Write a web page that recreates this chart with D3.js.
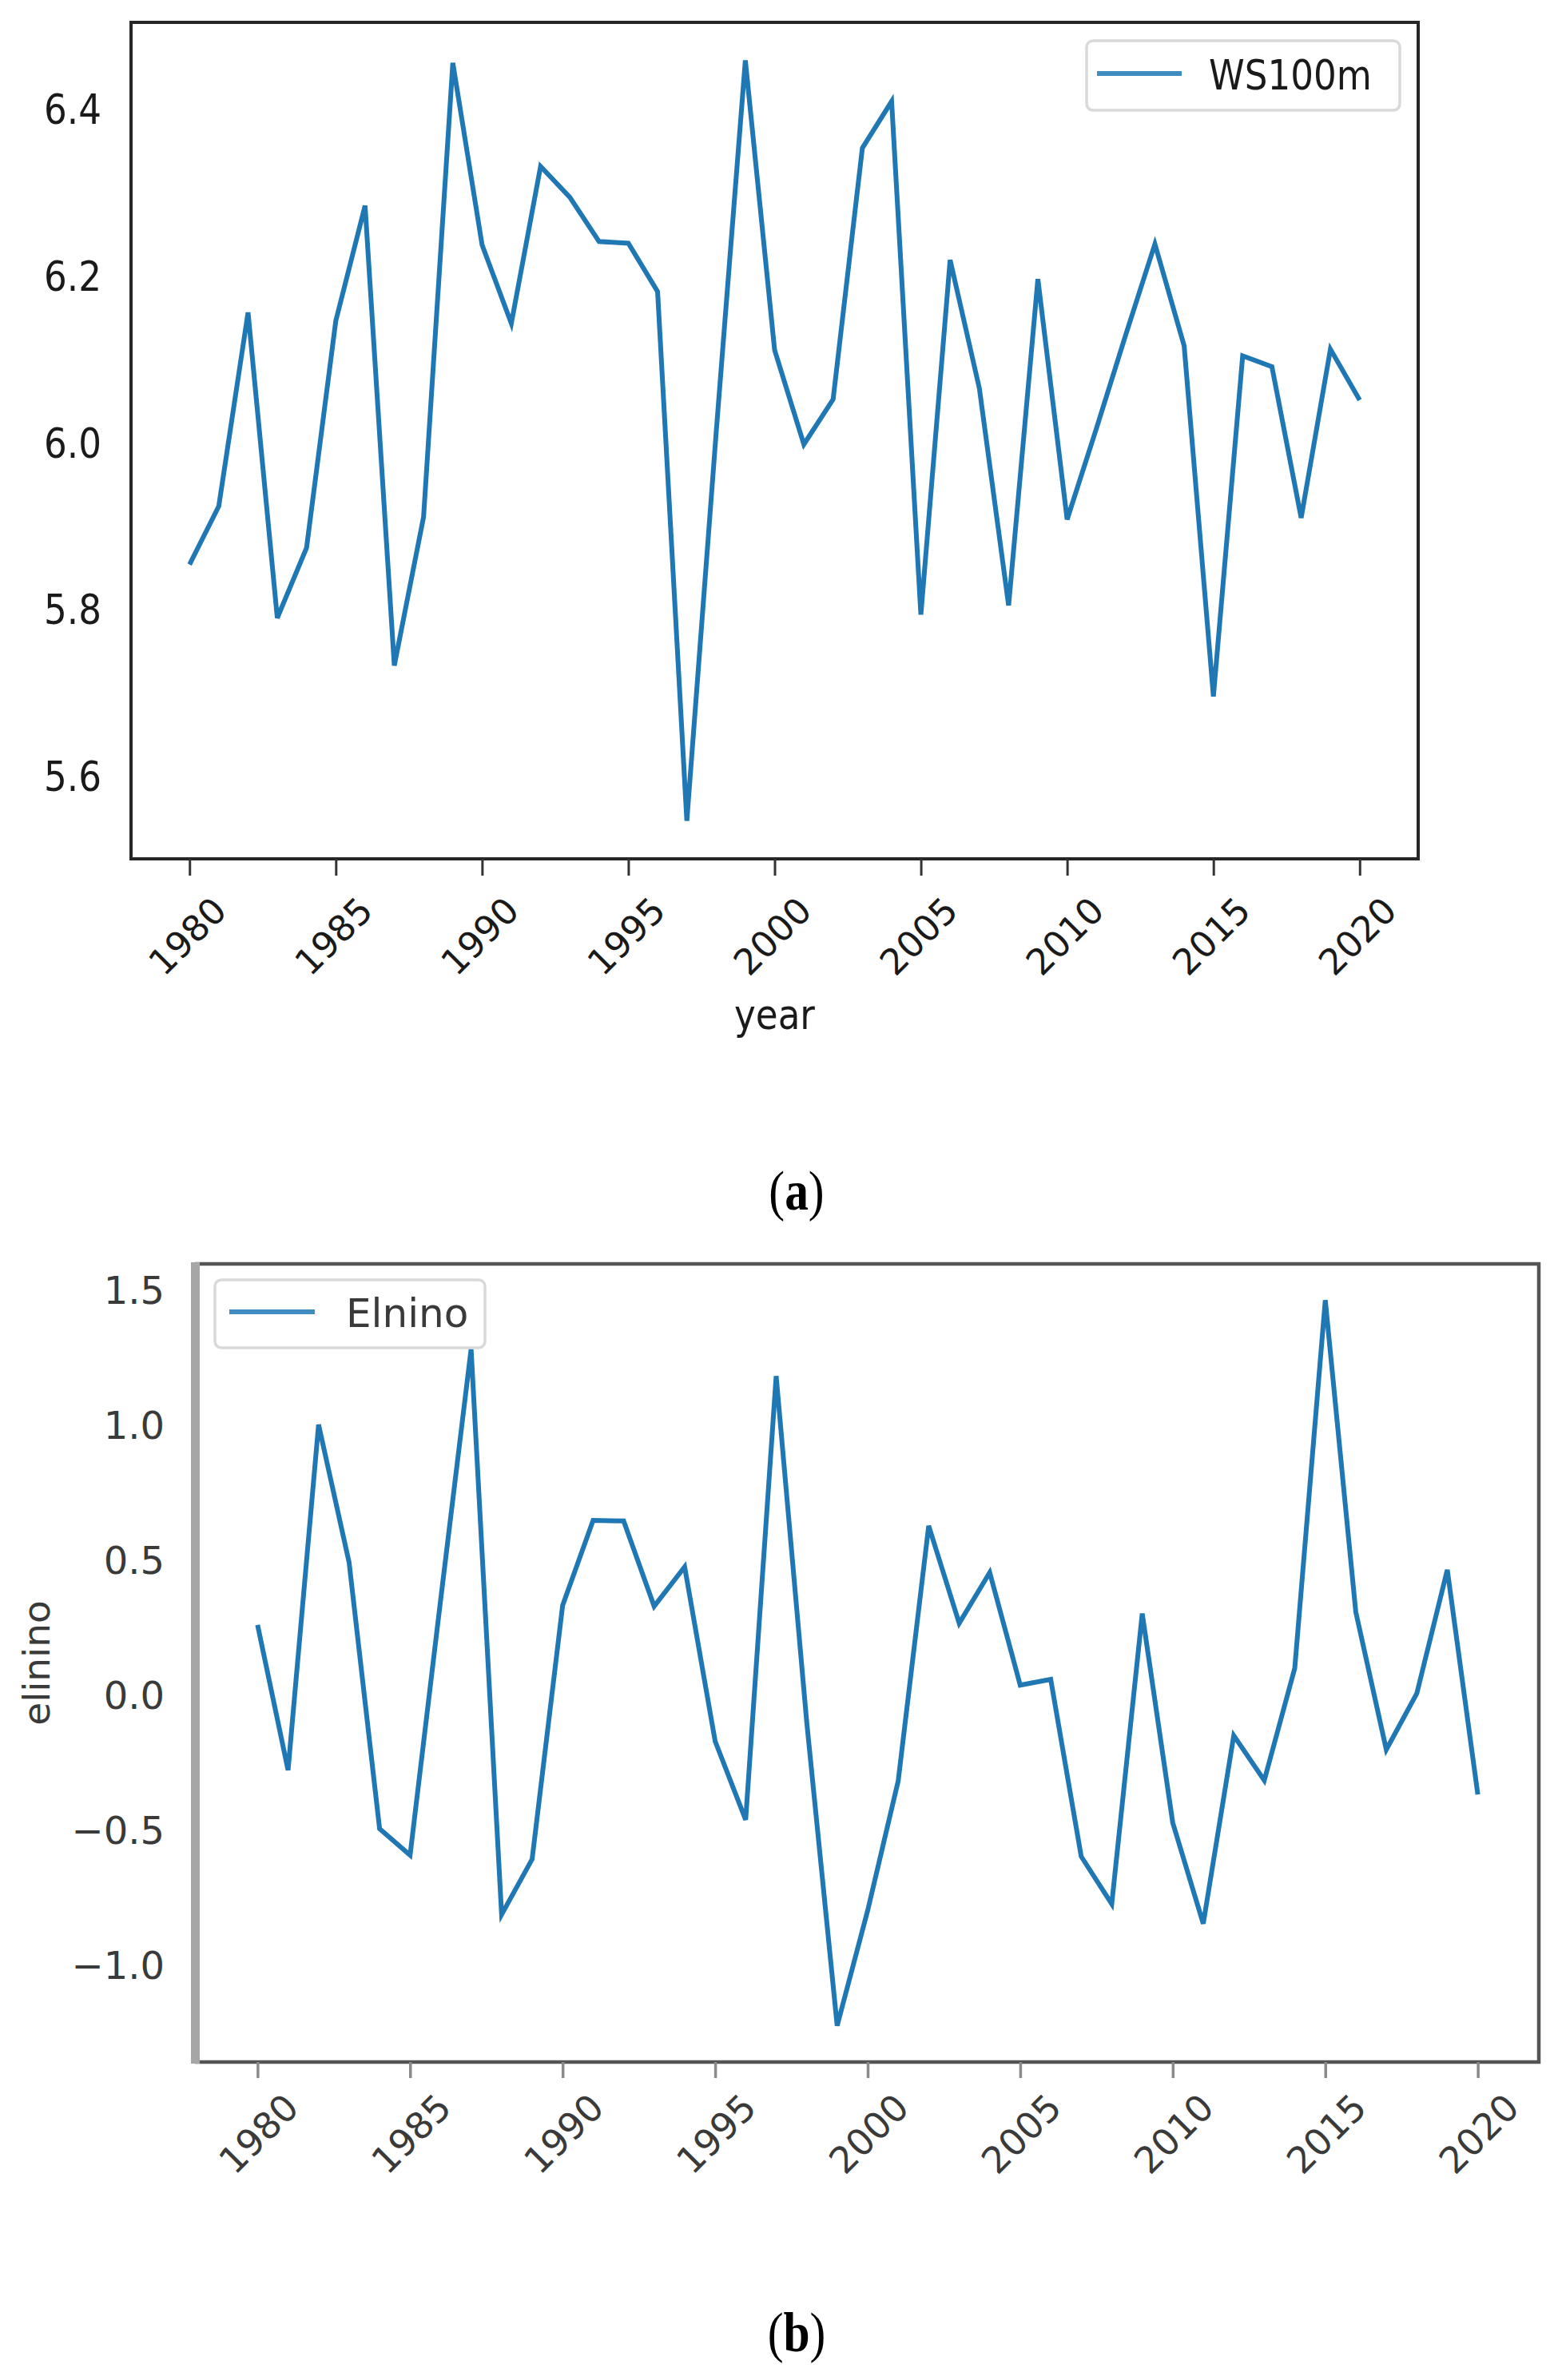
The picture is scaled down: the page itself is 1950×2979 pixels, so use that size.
<!DOCTYPE html>
<html>
<head>
<meta charset="utf-8">
<script src="https://cdn.jsdelivr.net/npm/d3@7"></script>
<style>
  html, body { margin: 0; padding: 0; background: #ffffff; }
  svg { display: block; }
</style>
</head>
<body>
<svg id="chart" width="1950" height="2979"></svg>
<script>
// ---------------- DATA ----------------
const years = d3.range(1980, 2021);
const ws100m = [5.853, 5.923, 6.155, 5.789, 5.873, 6.145, 6.283, 5.732, 5.910, 6.454,
                6.236, 6.142, 6.330, 6.293, 6.240, 6.238, 6.180, 5.546, 6.010, 6.457,
                6.110, 5.997, 6.051, 6.352, 6.408, 5.793, 6.218, 6.064, 5.804, 6.195,
                5.907, 6.016, 6.128, 6.237, 6.115, 5.695, 6.103, 6.090, 5.909, 6.111,
                6.050];
const elnino = [0.258, -0.280, 1.000, 0.490, -0.497, -0.595, 0.350, 1.280, -0.815, -0.610,
                0.330, 0.645, 0.643, 0.327, 0.473, -0.173, -0.464, 1.180, -0.100, -1.227,
                -0.800, -0.320, 0.625, 0.264, 0.452, 0.035, 0.056, -0.600, -0.776, 0.300,
                -0.475, -0.849, -0.152, -0.318, 0.098, 1.461, 0.306, -0.204, 0.004, 0.462,
                -0.370];
const xTicks = [1980, 1985, 1990, 1995, 2000, 2005, 2010, 2015, 2020];
const yTicksA = [5.6, 5.8, 6.0, 6.2, 6.4];
const yTicksB = [-1.0, -0.5, 0.0, 0.5, 1.0, 1.5];
const seriesNameA = "WS100m";
const seriesNameB = "Elnino";
const xLabelA = "year";
const yLabelB = "elinino";
const captionA = "a";
const captionB = "b";

// ---------------- HELPERS ----------------
const svg = d3.select("#chart");
const LINE = "#1f77b4";
const FONT = "DejaVu Sans, Verdana, sans-serif";

function padded(ext, frac) {
  const r = ext[1] - ext[0];
  return [ext[0] - r * frac, ext[1] + r * frac];
}
function fmtTick(v) {
  return d3.format(".1f")(v).replace("-", "\u2212");
}

function drawPanel(cfg) {
  const g = svg.append("g");
  const x = d3.scaleLinear().domain(padded(d3.extent(years), 0.05)).range([cfg.left, cfg.right]);
  const y = d3.scaleLinear().domain(padded(d3.extent(cfg.values), 0.05)).range([cfg.bottom, cfg.top]);

  // line
  const line = d3.line().x((d, i) => x(years[i])).y(d => y(d));
  g.append("path")
    .datum(cfg.values)
    .attr("d", line)
    .attr("fill", "none")
    .attr("stroke", LINE)
    .attr("stroke-width", 6)
    .attr("stroke-linejoin", "miter")
    .attr("stroke-linecap", "butt");

  // frame
  g.append("rect")
    .attr("x", cfg.left).attr("y", cfg.top)
    .attr("width", cfg.right - cfg.left).attr("height", cfg.bottom - cfg.top)
    .attr("fill", "none").attr("stroke", cfg.spine).attr("stroke-width", cfg.spineW);
  if (cfg.leftBar) {
    g.append("rect")
      .attr("x", cfg.left - 7).attr("y", cfg.top - 2)
      .attr("width", 11).attr("height", cfg.bottom - cfg.top + 4)
      .attr("fill", cfg.leftBar);
  }

  // y axis
  const ya = g.append("g")
    .attr("transform", `translate(${cfg.left},0)`)
    .call(d3.axisLeft(y).tickValues(cfg.yTicks).tickFormat(fmtTick).tickSize(cfg.yTickLen).tickPadding(0));
  ya.select(".domain").remove();
  ya.selectAll(".tick line").attr("stroke", cfg.yTickColor).attr("stroke-width", cfg.tickW)
    .attr("x1", -cfg.yTickOff);
  ya.selectAll(".tick text")
    .attr("x", null).attr("dy", null)
    .attr("text-anchor", "end")
    .attr("font-family", FONT)
    .attr("font-size", cfg.fs)
    .attr("fill", cfg.textColor)
    .attr("transform", `translate(${-cfg.yLabelGap},${cfg.fs * 0.3645}) scale(${cfg.sx},1)`);

  // x axis
  const xa = g.append("g")
    .attr("transform", `translate(0,${cfg.bottom})`)
    .call(d3.axisBottom(x).tickValues(xTicks).tickFormat(d3.format("d")).tickSize(cfg.xTickLen).tickPadding(0));
  xa.select(".domain").remove();
  xa.selectAll(".tick line").attr("stroke", cfg.xTickColor).attr("stroke-width", cfg.tickW);
  xa.selectAll(".tick text")
    .attr("y", null).attr("dy", null)
    .attr("text-anchor", "middle")
    .attr("dominant-baseline", "central")
    .attr("font-family", FONT)
    .attr("font-size", cfg.xfs)
    .attr("fill", cfg.textColor)
    .attr("transform", `translate(${cfg.xLabelDx},${cfg.xLabelCy}) rotate(-45)`);

  // legend
  const L = cfg.legend;
  g.append("rect")
    .attr("x", L.x0).attr("y", L.y0)
    .attr("width", L.x1 - L.x0).attr("height", L.y1 - L.y0)
    .attr("rx", 8).attr("ry", 8)
    .attr("fill", "#ffffff").attr("fill-opacity", 0.85)
    .attr("stroke", "#d9d9d9").attr("stroke-width", 3.5);
  g.append("line")
    .attr("x1", L.lx0).attr("x2", L.lx1).attr("y1", L.ly).attr("y2", L.ly)
    .attr("stroke", LINE).attr("stroke-width", 6).attr("stroke-opacity", 0.85);
  g.append("text")
    .attr("transform", `translate(${L.tx},${L.ty}) scale(${cfg.sx},1)`)
    .attr("font-family", FONT)
    .attr("font-size", L.fs)
    .attr("fill", cfg.textColor)
    .text(cfg.name);

  return { x, y, g };
}

// ---------------- PANEL (a) ----------------
const pa = drawPanel({
  values: ws100m, name: seriesNameA,
  left: 164, right: 1775, top: 28, bottom: 1075,
  yTicks: yTicksA,
  spine: "#262626", spineW: 4, leftBar: null,
  yTickLen: 18, yTickOff: 18, yTickColor: "#262626", xTickLen: 21, xTickColor: "#333333", tickW: 3,
  yLabelGap: 37, fs: 52, sx: 0.87, xfs: 45, xLabelCy: 97, xLabelDx: -3,
  textColor: "#1a1a1a",
  legend: { x0: 1360, y0: 51, x1: 1752, y1: 138, lx0: 1373, lx1: 1479, ly: 92,
            tx: 1513, ty: 111.5, fs: 52 }
});
svg.append("text")
  .attr("transform", `translate(${(164 + 1775) / 2},1288) scale(0.87,1)`)
  .attr("text-anchor", "middle")
  .attr("font-family", FONT).attr("font-size", 52).attr("fill", "#1a1a1a")
  .text(xLabelA);

// ---------------- PANEL (b) ----------------
const pb = drawPanel({
  values: elnino, name: seriesNameB,
  left: 246, right: 1926, top: 1582, bottom: 2581,
  yTicks: yTicksB,
  spine: "#555555", spineW: 4.5, leftBar: "#a6a6a6",
  yTickLen: 19, yTickOff: 19, yTickColor: "#555555", xTickLen: 20, xTickColor: "#8a8a8a", tickW: 3.5,
  yLabelGap: 40, fs: 48, sx: 1, xfs: 46, xLabelCy: 90, xLabelDx: 1,
  textColor: "#3a3a3a",
  legend: { x0: 269, y0: 1602, x1: 607, y1: 1687, lx0: 287, lx1: 394, ly: 1642,
            tx: 433, ty: 1660.5, fs: 50 }
});
svg.append("text")
  .attr("transform", `translate(62,${(1582 + 2581) / 2}) rotate(-90)`)
  .attr("text-anchor", "middle")
  .attr("font-family", FONT).attr("font-size", 47).attr("fill", "#3a3a3a")
  .text(yLabelB);

// ---------------- CAPTIONS ----------------
function caption(letter, cx, base) {
  const t = svg.append("text")
    .attr("transform", `translate(${cx},${base}) scale(0.85,1)`)
    .attr("text-anchor", "middle")
    .attr("font-family", "Liberation Serif, Times New Roman, serif")
    .attr("font-size", 70)
    .attr("fill", "#000000");
  t.append("tspan").text("(");
  t.append("tspan").attr("font-weight", "bold").text(letter);
  t.append("tspan").text(")");
}
caption(captionA, 997, 1514);
caption(captionB, 997, 2943);
</script>
</body>
</html>
